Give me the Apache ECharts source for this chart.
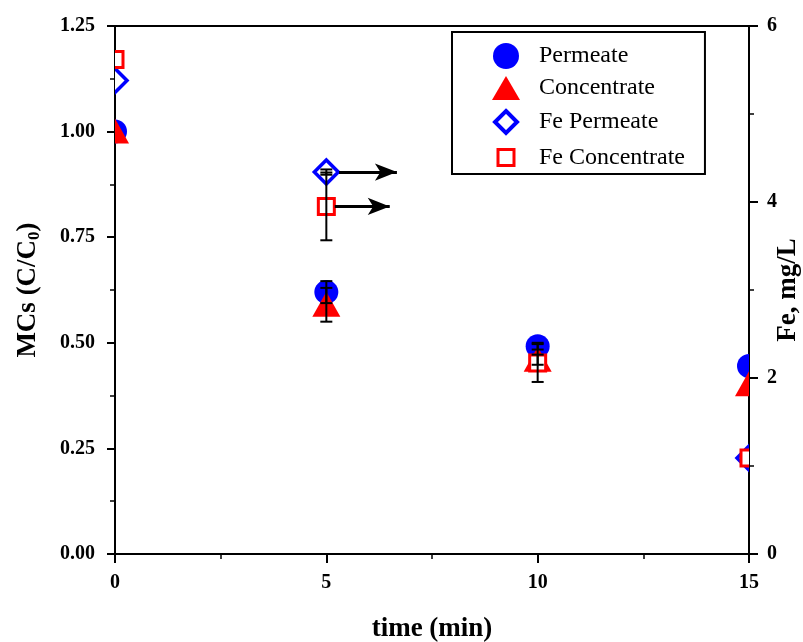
<!DOCTYPE html>
<html>
<head>
<meta charset="utf-8">
<script src="https://cdn.jsdelivr.net/npm/echarts@6/dist/echarts.min.js"></script>
<style>
  html, body { margin: 0; padding: 0; background: #fff; }
  #chart { width: 803px; height: 642px; }
</style>
</head>
<body>
<div id="chart"></div>
<script>
// time points (min)
const times = [0, 5, 10, 15];
// MCs, C/C0 (left axis)
const permeate = [1.0, 0.62, 0.492, 0.445];
const concentrate = [1.0, 0.59, 0.46, 0.402];
// Fe, mg/L (right axis)
const fePermeate = [5.38, 4.34, null, 1.09];
const feConcentrate = [5.62, 3.95, 2.17, 1.09];
// error bars (half widths), null = none
const permeateErr = [null, 0.026, 0.008, null];
const concentrateErr = [null, 0.04, 0.012, null];
const fePermeateErr = [null, 0.03, null, null];
const feConcentrateErr = [null, 0.385, 0.215, null];

const serif = '"Liberation Serif", "Times New Roman", serif';

function pairs(ys) {
  const out = [];
  ys.forEach((y, i) => { if (y != null) out.push([times[i], y]); });
  return out;
}
function errRows(ys, errs) {
  const out = [];
  ys.forEach((y, i) => {
    if (y != null && errs[i] != null) out.push([times[i], y - errs[i], y + errs[i]]);
  });
  return out;
}

function marker(kind) {
  return function (params, api) {
    const p = api.coord([api.value(0), api.value(1)]);
    const x = p[0], y = p[1];
    if (kind === 'circle') {
      return { type: 'circle', shape: { cx: x, cy: y, r: 12 }, style: { fill: '#0000ff' } };
    }
    if (kind === 'triangle') {
      return { type: 'polygon', shape: { points: [[x, y - 13], [x + 14, y + 12], [x - 14, y + 12]] }, style: { fill: '#ff0000' } };
    }
    if (kind === 'diamond') {
      return { type: 'polygon', shape: { points: [[x, y - 12], [x + 12, y], [x, y + 12], [x - 12, y]] }, style: { fill: '#fff', stroke: '#0000ff', lineWidth: 3.5 } };
    }
    return { type: 'rect', shape: { x: x - 8, y: y - 8, width: 16, height: 16 }, style: { fill: '#fff', stroke: '#ff0000', lineWidth: 3 } };
  };
}

function errorBar(params, api) {
  const lo = api.coord([api.value(0), api.value(1)]);
  const hi = api.coord([api.value(0), api.value(2)]);
  const x = lo[0], cap = 6;
  const st = { stroke: '#000', lineWidth: 2 };
  return {
    type: 'group',
    children: [
      { type: 'line', shape: { x1: x, y1: lo[1], x2: x, y2: hi[1] }, style: st },
      { type: 'line', shape: { x1: x - cap, y1: lo[1], x2: x + cap, y2: lo[1] }, style: st },
      { type: 'line', shape: { x1: x - cap, y1: hi[1], x2: x + cap, y2: hi[1] }, style: st }
    ]
  };
}

function markerSeries(name, kind, ys, axis, color) {
  return {
    name: name,
    type: 'custom',
    yAxisIndex: axis,
    clip: true,
    itemStyle: { color: color },
    encode: { x: 0, y: 1 },
    data: pairs(ys),
    renderItem: marker(kind)
  };
}
function errSeries(ys, errs, axis) {
  return {
    type: 'custom',
    yAxisIndex: axis,
    clip: true,
    encode: { x: 0, y: [1, 2] },
    data: errRows(ys, errs),
    renderItem: errorBar,
    z: 5
  };
}

// legend icons: the leading moves fix the 44x26 box so the shape keeps its size
const box = 'M0,0 M44,26 ';
const iconCircle = 'path://' + box + 'M3,13 A13,13 0 1,1 29,13 A13,13 0 1,1 3,13 Z';
const iconTriangle = 'path://' + box + 'M16,1 L30,25 L2,25 Z';
const iconDiamond = 'path://' + box + 'M16,2 L27,13 L16,24 L5,13 Z';
const iconSquare = 'path://' + box + 'M8,5 L24,5 L24,21 L8,21 Z';

const chart = echarts.init(document.getElementById('chart'), null, { renderer: 'canvas' });

const tickFont = { fontFamily: serif, fontSize: 20, fontWeight: 'bold', color: '#000' };
const nameFont = { fontFamily: serif, fontSize: 27, fontWeight: 'bold', color: '#000' };

const option = {
  animation: false,
  grid: {
    left: 115, right: 54, top: 26, bottom: 88,
    outerBoundsMode: 'none',
    show: true, borderColor: '#000', borderWidth: 2
  },
  legend: {
    orient: 'vertical',
    left: 452,
    top: 32,
    padding: [11, 20, 2, 36],
    itemGap: 6,
    itemWidth: 44,
    itemHeight: 26,
    borderColor: '#000',
    borderWidth: 2,
    textStyle: { fontFamily: serif, fontSize: 24, color: '#000' },
    data: [
      { name: 'Permeate', icon: iconCircle },
      { name: 'Concentrate', icon: iconTriangle },
      { name: 'Fe Permeate', icon: iconDiamond, itemStyle: { color: '#fff', borderColor: '#0000ff', borderWidth: 4 } },
      { name: 'Fe Concentrate', icon: iconSquare, itemStyle: { color: '#fff', borderColor: '#ff0000', borderWidth: 3 } }
    ]
  },
  xAxis: {
    type: 'value',
    min: 0, max: 15, interval: 5,
    name: 'time (min)',
    nameLocation: 'middle',
    nameGap: 62,
    nameMoveOverlap: false,
    nameTextStyle: nameFont,
    axisLine: { lineStyle: { color: '#000', width: 2 } },
    axisTick: { length: 9, lineStyle: { color: '#000', width: 2 } },
    minorTick: { show: true, splitNumber: 2, length: 5, lineStyle: { color: '#000', width: 1.5 } },
    axisLabel: Object.assign({ margin: 19 }, tickFont),
    splitLine: { show: false }
  },
  yAxis: [
    {
      type: 'value',
      min: 0, max: 1.25, interval: 0.25,
      name: '{n|MCs (C/C}{s|0}{n|)}',
      nameLocation: 'middle',
      nameGap: 72,
      nameMoveOverlap: false,
      nameTextStyle: {
        rich: {
          n: nameFont,
          s: { fontFamily: serif, fontSize: 17, fontWeight: 'bold', color: '#000', padding: [12, 0, 0, 0] }
        }
      },
      axisLine: { show: true, lineStyle: { color: '#000', width: 2 } },
      axisTick: { show: true, length: 8, lineStyle: { color: '#000', width: 2 } },
      minorTick: { show: true, splitNumber: 2, length: 5, lineStyle: { color: '#000', width: 1.5 } },
      axisLabel: Object.assign({ margin: 20, formatter: (v) => v.toFixed(2) }, tickFont),
      splitLine: { show: false }
    },
    {
      type: 'value',
      position: 'right',
      min: 0, max: 6, interval: 2,
      name: 'Fe, mg/L',
      nameLocation: 'middle',
      nameRotate: 90,
      nameGap: 26,
      nameMoveOverlap: false,
      nameTextStyle: nameFont,
      axisLine: { show: true, lineStyle: { color: '#000', width: 2 } },
      axisTick: { show: true, length: 9, lineStyle: { color: '#000', width: 2 } },
      minorTick: { show: true, splitNumber: 2, length: 5, lineStyle: { color: '#000', width: 1.5 } },
      axisLabel: Object.assign({ margin: 18 }, tickFont),
      splitLine: { show: false }
    }
  ],
  series: [
    markerSeries('Permeate', 'circle', permeate, 0, '#0000ff'),
    markerSeries('Concentrate', 'triangle', concentrate, 0, '#ff0000'),
    markerSeries('Fe Permeate', 'diamond', fePermeate, 1, '#0000ff'),
    markerSeries('Fe Concentrate', 'square', feConcentrate, 1, '#ff0000'),
    errSeries(permeate, permeateErr, 0),
    errSeries(concentrate, concentrateErr, 0),
    errSeries(fePermeate, fePermeateErr, 1),
    errSeries(feConcentrate, feConcentrateErr, 1),
    {
      // arrows pointing the Fe points to the right axis
      type: 'line',
      yAxisIndex: 1,
      data: [],
      markLine: {
        silent: true,
        symbol: ['none', 'arrow'],
        symbolSize: [13, 22],
        label: { show: false },
        lineStyle: { color: '#000', width: 3, type: 'solid' },
        data: [
          [{ coord: [5.3, fePermeate[1]] }, { coord: [6.67, fePermeate[1]] }],
          [{ coord: [5.2, feConcentrate[1]] }, { coord: [6.5, feConcentrate[1]] }]
        ]
      }
    }
  ]
};

chart.setOption(option);
</script>
</body>
</html>
